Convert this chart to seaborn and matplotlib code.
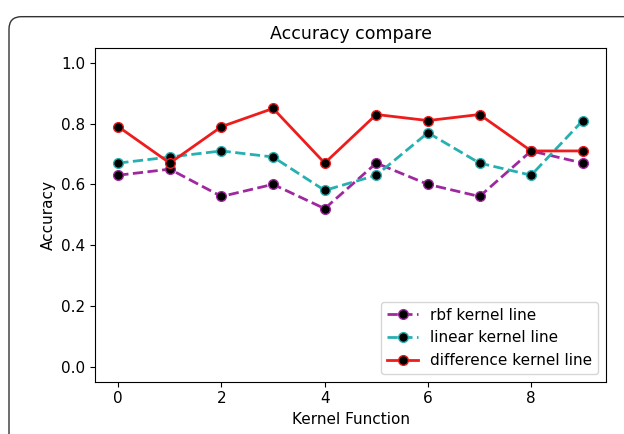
import matplotlib
matplotlib.use("Agg")
import matplotlib.pyplot as plt
from matplotlib.patches import FancyBboxPatch
import seaborn as sns
import numpy as np

x_vals = list(range(10))
rbf = [0.63, 0.65, 0.56, 0.60, 0.52, 0.67, 0.60, 0.56, 0.71, 0.67]
linear = [0.67, 0.69, 0.71, 0.69, 0.58, 0.63, 0.77, 0.67, 0.63, 0.81]
difference = [0.79, 0.67, 0.79, 0.85, 0.67, 0.83, 0.81, 0.83, 0.71, 0.71]
labels = ["rbf kernel line", "linear kernel line", "difference kernel line"]

fig = plt.figure(figsize=(6.24, 4.34), dpi=100)
frame = FancyBboxPatch((9 / 624, -0.1), 1.2, 1.08 - 8 / 434 + 0.0, transform=fig.transFigure,
                       boxstyle="round,pad=0,rounding_size=0.02", fill=False,
                       edgecolor="#333333", linewidth=1.0, mutation_aspect=624 / 434)
fig.patches.append(frame)
ax = fig.add_axes([95 / 624, 1 - 381.7 / 434, (606 - 95) / 624, (381.7 - 47.7) / 434])

series = [(rbf, "#a0289f", "--"), (linear, "#27b0b0", "--"), (difference, "#ee1c1c", "-")]
for (vals, col, ls), lab in zip(series, labels):
    sns.lineplot(x=x_vals, y=vals, ax=ax, color=col, linestyle=ls, linewidth=2,
                 marker="o", markersize=7, markerfacecolor="black",
                 markeredgecolor=col, markeredgewidth=1, label=lab)

ax.set_ylim(-0.05, 1.05)
ax.set_xlim(-0.45, 9.45)
ax.set_xticks([0, 2, 4, 6, 8])
ax.set_yticks([0.0, 0.2, 0.4, 0.6, 0.8, 1.0])
ax.tick_params(labelsize=11)
ax.set_title("Accuracy compare", fontsize=12.5)
ax.set_xlabel("Kernel Function", fontsize=11)
ax.set_ylabel("Accuracy", fontsize=11)
ax.legend(loc="lower right", fontsize=11)
fig.savefig("out.png", dpi=100)
